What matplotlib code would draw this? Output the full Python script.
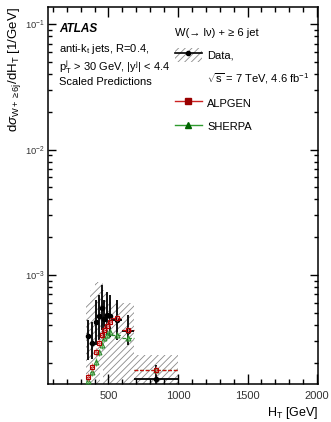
import matplotlib
matplotlib.use('Agg')
import matplotlib.pyplot as plt
from matplotlib.patches import Patch
from matplotlib.lines import Line2D
from matplotlib.ticker import MultipleLocator, LogLocator, NullFormatter
import numpy as np

plt.rcParams['font.family'] = ['Liberation Sans', 'DejaVu Sans']
plt.rcParams['mathtext.fontset'] = 'custom'
plt.rcParams['mathtext.rm'] = 'Liberation Sans'
plt.rcParams['mathtext.it'] = 'Liberation Sans:italic'
plt.rcParams['hatch.linewidth'] = 0.6

# bin edges in HT [GeV]
edges = [340, 370, 400, 420, 440, 460, 480, 500, 520, 600, 680, 1000]

# data, W + >= 6 jets
data = [3.27e-4, 2.87e-4, 4.22e-4, 4.71e-4, 5.46e-4, 4.46e-4, 4.80e-4, 4.71e-4, 4.38e-4, 3.58e-4, 1.48e-4]
data_hi = [4.38e-4, 4.22e-4, 6.32e-4, 6.93e-4, 8.32e-4, 6.32e-4, 7.32e-4, 6.93e-4, 6.32e-4, 4.80e-4, 1.92e-4]
data_lo = [2.10e-4, 2.14e-4, 2.77e-4, 3.03e-4, 3.65e-4, 3.03e-4, 3.33e-4, 3.21e-4, 3.03e-4, 2.77e-4, 1.0e-5]

# total uncertainty band on data
band_hi = [5.98e-4, 7.59e-4, 8.63e-4, 8.79e-4, 8.79e-4, 7.59e-4, 7.19e-4, 6.32e-4, 5.98e-4, 5.98e-4, 2.30e-4]
band_lo = [1.0e-5, 1.0e-5, 1.0e-5, 1.0e-5, 1.75e-4, 1.0e-5, 1.0e-5, 1.0e-5, 1.0e-5, 1.0e-5, 1.0e-5]

# scaled predictions
alpgen = [1.54e-4, 1.85e-4, 2.43e-4, 2.87e-4, 3.33e-4, 3.65e-4, 3.92e-4, 4.22e-4, 4.54e-4, 3.65e-4, 1.75e-4]
alpgen_err = [1.2e-5, 1.4e-5, 1.8e-5, 2.0e-5, 2.3e-5, 2.5e-5, 2.6e-5, 2.8e-5, 2.6e-5, 2.2e-5, 1.2e-5]
sherpa = [1.43e-4, 1.69e-4, 2.03e-4, 2.43e-4, 2.77e-4, 3.15e-4, 3.33e-4, 3.51e-4, 3.33e-4, 3.15e-4, 1.75e-4]
sherpa_err = [1.0e-5, 1.2e-5, 1.4e-5, 1.6e-5, 1.8e-5, 2.0e-5, 2.1e-5, 2.2e-5, 2.0e-5, 1.9e-5, 1.0e-5]

edges = np.array(edges)
centers = 0.5 * (edges[:-1] + edges[1:])
halfw = 0.5 * (edges[1:] - edges[:-1])

fig = plt.figure(figsize=(3.31, 4.22), dpi=100)
ax = fig.add_axes([48 / 331, 1 - 384 / 422, 270 / 331, 377 / 422])
ax.set_yscale('log')
ax.set_xlim(65, 2007)
ax.set_ylim(1.35e-4, 0.137)

# hatched band
ax.bar(edges[:-1], np.array(band_hi) - np.array(band_lo), bottom=band_lo,
       width=edges[1:] - edges[:-1], align='edge', facecolor='none',
       edgecolor='#8a8a8a', hatch='/////', linewidth=0, zorder=1)

# data
ax.errorbar(centers, data, xerr=halfw,
            yerr=[np.array(data) - np.array(data_lo), np.array(data_hi) - np.array(data)],
            fmt='o', color='black', ms=3, elinewidth=1.3, capsize=0, zorder=3)

# predictions
eb_s = ax.errorbar(centers, sherpa, xerr=halfw, yerr=sherpa_err, fmt='^',
                   color='#006400', ms=3.5, mfc='none', mec='#2e8b2e', mew=0.8,
                   ecolor='#5cb85c', elinewidth=0.9, capsize=0, zorder=4)
eb_s[2][0].set_linestyle((0, (3, 1.5)))
eb_s[2][0].set_color('#2e8b2e')
eb_a = ax.errorbar(centers, alpgen, xerr=halfw, yerr=alpgen_err, fmt='s',
                   color='#990000', ms=3.5, mfc='none', mec='#b00000', mew=0.8,
                   ecolor='#e07070', elinewidth=0.9, capsize=0, zorder=5)
eb_a[2][0].set_linestyle((0, (3, 1.5)))
eb_a[2][0].set_color('#cc1111')

# axes style
for s in ax.spines.values():
    s.set_linewidth(1.1)
ax.xaxis.set_major_locator(MultipleLocator(500))
ax.xaxis.set_minor_locator(MultipleLocator(100))
ax.yaxis.set_major_locator(LogLocator(base=10, numticks=10))
ax.yaxis.set_minor_locator(LogLocator(base=10, subs=np.arange(2, 10), numticks=20))
ax.yaxis.set_minor_formatter(NullFormatter())
ax.tick_params(which='both', direction='in', top=True, right=True, width=1.0)
ax.tick_params(axis='x', which='major', length=7, labelsize=8, pad=5)
ax.tick_params(axis='x', which='minor', length=3.5)
ax.tick_params(axis='y', which='major', length=6, labelsize=6.8, pad=2)
ax.tick_params(axis='y', which='minor', length=3)
for lab in ax.get_xticklabels() + ax.get_yticklabels():
    lab.set_color('#333333')

ax.set_xlabel(r'H$_\mathregular{T}$ [GeV]', loc='right', fontsize=9, labelpad=3)
ax.set_ylabel(r'd$\sigma_{\mathregular{W+\geq 6j}}$/dH$_\mathregular{T}$ [1/GeV]',
              loc='top', fontsize=9.5, labelpad=2)

# labels
tx = (59 - 48) / 270
ax.text(tx, 0.942, 'ATLAS', transform=ax.transAxes, fontsize=8.5,
        fontweight='bold', fontstyle='italic', va='center')
ax.text(tx, 0.889, r'anti-k$_\mathregular{t}$ jets, R=0.4,', transform=ax.transAxes,
        fontsize=8, va='center')
ax.text(tx, 0.841, r'p$_\mathregular{T}^\mathregular{j}$ > 30 GeV, |y$^\mathregular{j}$| < 4.4',
        transform=ax.transAxes, fontsize=8, va='center')
ax.text(tx, 0.801, 'Scaled Predictions', transform=ax.transAxes, fontsize=8, va='center')

# legend
data_h = (Patch(facecolor='white', edgecolor='#8a8a8a', hatch='/////', linewidth=0),
          Line2D([], [], color='black', marker='o', ms=3, lw=1.2))
blank_h = Line2D([], [], color='none')
alp_h = Line2D([], [], color='#cc2222', marker='s', mfc='#990000', mec='#990000', ms=5, lw=1)
she_h = Line2D([], [], color='#2e9b2e', marker='^', mfc='#006400', mec='#006400', ms=4, lw=1)
leg = ax.legend([data_h, blank_h, alp_h, she_h],
                ['Data,', r'$\sqrt{\mathregular{s}}$ = 7 TeV, 4.6 fb$^{-1}$', 'ALPGEN', 'SHERPA'],
                title='W(→ lν) + ≥ 6 jet', title_fontsize=8,
                alignment='left', loc='upper left', bbox_to_anchor=((175 - 48) / 270, 0.943),
                frameon=False, fontsize=8, borderpad=0, borderaxespad=0,
                handlelength=2.4, handleheight=1.6, handletextpad=0.5, labelspacing=0.85)

fig.savefig('out.png', dpi=100)
